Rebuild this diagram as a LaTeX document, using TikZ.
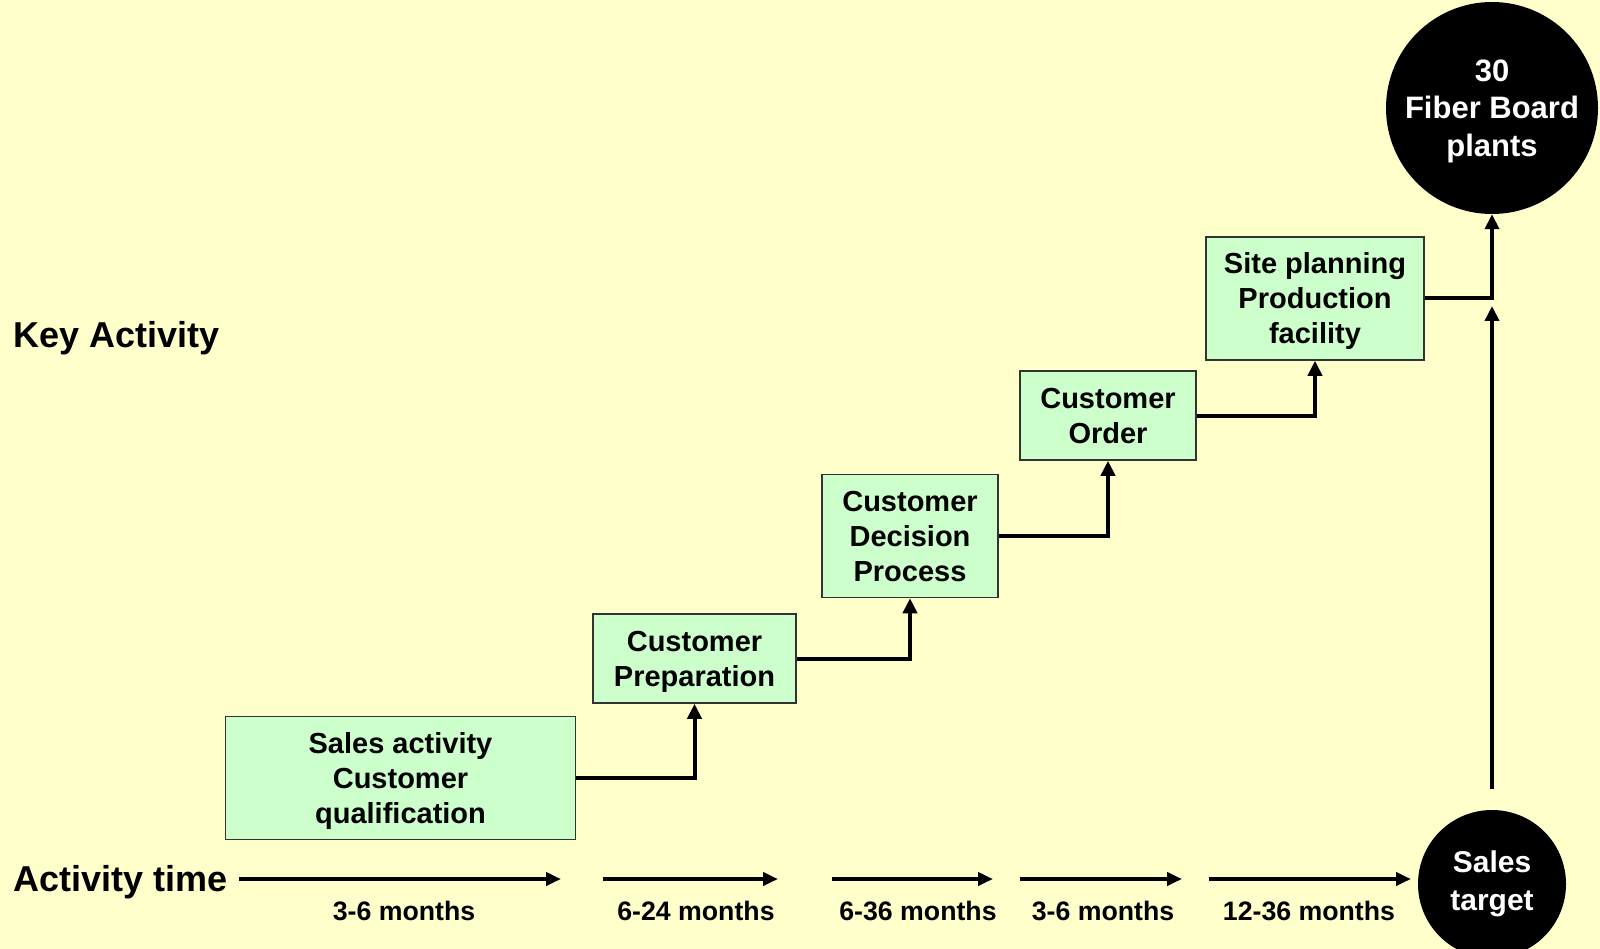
\documentclass[tikz,border=0pt]{standalone}
\usepackage{fontspec}
\setmainfont{Liberation Sans}
\usetikzlibrary{arrows.meta,shapes.geometric}
\definecolor{bgyellow}{HTML}{FFFFCC}
\definecolor{boxgreen}{HTML}{CCFFCC}
\definecolor{boxline}{HTML}{333333}
\newcommand{\fstrut}{\rule[-0.212em]{0pt}{1.117em}}
\tikzset{
  actbox/.style={draw=boxline, line width=1.5pt, fill=boxgreen, align=center, inner sep=0pt,
    font=\fontsize{29}{35}\selectfont\bfseries},
  conn/.style={line width=4pt, -{Triangle[length=15pt,width=14pt]}},
  tline/.style={line width=4pt, -{Triangle[length=15pt,width=13pt]}},
  mlabel/.style={font=\fontsize{26.7}{30}\selectfont\bfseries},
  sidelabel/.style={anchor=west, font=\fontsize{36}{42}\selectfont\bfseries, inner sep=0pt},
  blackcirc/.style={circle, fill=black, text=white, align=center, inner sep=0pt}
}
\begin{document}
\begin{tikzpicture}[x=1pt,y=-1pt]
\useasboundingbox (0,0) rectangle (1600,949);
\fill[bgyellow] (0,0) rectangle (1600,949);

% side labels
\node[sidelabel] (key) at (13,338) {Key Activity};
\node[sidelabel] (acttime) at (13,882) {Activity time};

% boxes
\node[actbox, minimum width=350pt, minimum height=123pt] (b1) at (400.5,778) {\fstrut Sales activity\\Customer\\qualification\fstrut};
\node[actbox, minimum width=203pt, minimum height=89pt] (b2) at (694.5,658.5) {\fstrut Customer\\Preparation\fstrut};
\node[actbox, minimum width=176pt, minimum height=123pt] (b3) at (910,536) {\fstrut Customer\\Decision\\Process\fstrut};
\node[actbox, minimum width=176pt, minimum height=89pt] (b4) at (1108,415.5) {\fstrut Customer\\Order\fstrut};
\node[actbox, minimum width=218pt, minimum height=123pt] (b5) at (1315,298.5) {\fstrut Site planning\\Production\\facility\fstrut};

% circles
\node[blackcirc, minimum size=212pt,
  font=\fontsize{31}{37.7}\selectfont\bfseries] (big) at (1492,108) {\fstrut 30\\Fiber Board\\plants\fstrut};
\node[blackcirc, minimum size=148pt,
  font=\fontsize{30}{38}\selectfont\bfseries] (small) at (1492,884) {Sales\\target};

% step connectors
\draw[conn] (b1.east) -| (b2.south);
\draw[conn] (b2.east) -| (b3.south);
\draw[conn] (b3.east) -| (b4.south);
\draw[conn] (b4.east) -| (b5.south);
\draw[conn] (b5.east) -| (big.south);

% vertical arrow from sales target
\coordinate (vs) at (1492,789);
\coordinate (ve) at (1492,306);
\draw[conn] (vs) -- (ve);

% timeline
\coordinate (t1s) at (239,879); \coordinate (t1e) at (561,879);
\coordinate (t2s) at (603,879); \coordinate (t2e) at (778,879);
\coordinate (t3s) at (832,879); \coordinate (t3e) at (993,879);
\coordinate (t4s) at (1020,879); \coordinate (t4e) at (1182,879);
\coordinate (t5s) at (1209,879); \coordinate (t5e) at (1411,879);
\draw[tline] (t1s) -- (t1e);
\draw[tline] (t2s) -- (t2e);
\draw[tline] (t3s) -- (t3e);
\draw[tline] (t4s) -- (t4e);
\draw[tline] (t5s) -- (t5e);

\node[mlabel] (m1) at (404,911) {3-6 months};
\node[mlabel] (m2) at (696,911) {6-24 months};
\node[mlabel] (m3) at (918,911) {6-36 months};
\node[mlabel] (m4) at (1103,911) {3-6 months};
\node[mlabel] (m5) at (1309,911) {12-36 months};
\end{tikzpicture}
\end{document}
